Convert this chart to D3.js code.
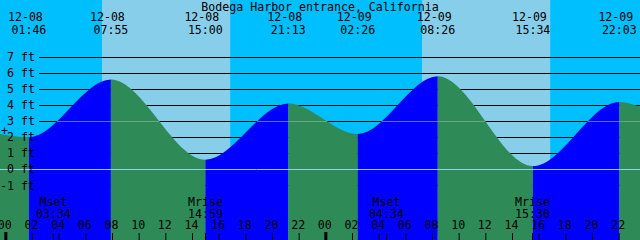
<!DOCTYPE html>
<html>
<head>
<meta charset="utf-8">
<script src="https://cdn.jsdelivr.net/npm/d3@7"></script>
<style>
  body { margin: 0; background: #fff; }
  text { font-family: "DejaVu Sans Mono", monospace; font-size: 11.6px; fill: #000; }
</style>
</head>
<body>
<script>
const width = 640;
const height = 240;

// tide extremes (time, height in ft), first low then alternating
const tideTimes = ["12-08 01:46", "12-08 07:55", "12-08 15:00", "12-08 21:13",
                   "12-09 02:26", "12-09 08:26", "12-09 15:34", "12-09 22:03"];
const tideHeights = [2.0, 5.6, 0.6, 4.1, 2.2, 5.8, 0.2, 4.2];
// curve values at the left and right edges of the chart
const edgeTimes = ["12-07 23:36", "12-09 23:36"];
const edgeHeights = [2.2, 3.9];

const sunriseTimes = ["12-08 07:15", "12-09 07:15"];
const sunsetTimes = ["12-08 16:52", "12-09 16:52"];

const moonLabels = ["Mset", "Mrise", "Mset", "Mrise"];
const moonTimes = ["12-08 03:34", "12-08 14:59", "12-09 04:34", "12-09 15:30"];

const depthTicks = [-1, 0, 1, 2, 3, 4, 5, 6, 7];
const meanLevel = 3;
const markLevel = 2.4;

const parse = d3.timeParse("%m-%d %H:%M");

const x = d3.scaleTime()
  .domain([parse(edgeTimes[0]), parse(edgeTimes[1])])
  .range([0, width]);

const y = d3.scaleLinear()
  .domain([-1, 7])
  .range([185.3, 57]);

const tide = [{ t: parse(edgeTimes[0]), v: edgeHeights[0] }]
  .concat(tideTimes.map((d, i) => ({ t: parse(d), v: tideHeights[i] })))
  .concat([{ t: parse(edgeTimes[1]), v: edgeHeights[1] }]);

const svg = d3.select("body")
  .append("svg")
    .attr("width", width)
    .attr("height", height);

// night / day background
svg.append("rect")
  .attr("width", width)
  .attr("height", height)
  .style("fill", "#00bfff");

svg.selectAll(".day")
  .data(sunriseTimes)
  .join("rect")
    .attr("class", "day")
    .attr("x", d => x(parse(d)))
    .attr("width", (d, i) => x(parse(sunsetTimes[i])) - x(parse(d)))
    .attr("y", 0)
    .attr("height", height)
    .style("fill", "#87ceeb");

// depth lines (only show above the water)
svg.append("g")
  .attr("transform", "translate(39,0)")
  .call(d3.axisRight(y).tickValues(depthTicks).tickSize(width - 39).tickFormat(""))
  .call(g => g.select(".domain").remove())
  .call(g => g.selectAll("line").attr("stroke", "#000").attr("shape-rendering", "crispEdges"));

// water
const area = d3.area()
  .x(d => x(d.t))
  .y0(height)
  .y1(d => y(d.v))
  .curve(d3.curveMonotoneX);

svg.append("clipPath")
  .attr("id", "water")
  .append("path")
    .attr("d", area(tide));

const bounds = tide.map(d => d.t);
const water = svg.append("g").attr("clip-path", "url(#water)");

water.selectAll(".seg")
  .data(d3.pairs(bounds))
  .join("rect")
    .attr("class", "seg")
    .attr("x", d => x(d[0]))
    .attr("width", d => x(d[1]) - x(d[0]))
    .attr("y", 0)
    .attr("height", height)
    .style("fill", (d, i) => i % 2 === 0 ? "#2e8b57" : "#0000ff");

water.append("line")
  .attr("x1", 0).attr("x2", width)
  .attr("y1", Math.round(y(meanLevel)) + 0.5).attr("y2", Math.round(y(meanLevel)) + 0.5)
  .attr("stroke", "#96b4aa")
  .attr("stroke-opacity", 0.6);

water.append("line")
  .attr("x1", 0).attr("x2", width)
  .attr("y1", Math.round(y(0)) + 0.5).attr("y2", Math.round(y(0)) + 0.5)
  .attr("stroke", "#8fd0ef");

// depth labels
svg.append("g")
  .attr("transform", "translate(39,0)")
  .call(d3.axisLeft(y).tickValues(depthTicks).tickSize(0).tickPadding(4).tickFormat(d => d + " ft"))
  .call(g => g.select(".domain").remove())
  .call(g => g.selectAll("text").style("font-family", null).style("font-size", null).attr("font-family", null).attr("font-size", null));

svg.append("text")
  .attr("x", 4.5)
  .attr("y", y(markLevel) + 4)
  .attr("text-anchor", "middle")
  .text("+");

// title
svg.append("text")
  .attr("x", width / 2)
  .attr("y", 10.5)
  .attr("text-anchor", "middle")
  .text("Bodega Harbor entrance, California");

// high / low labels
const extremeLabels = svg.selectAll(".extreme")
  .data(tideTimes)
  .join("g")
    .attr("class", "extreme")
    .attr("transform", d => `translate(${x(parse(d))},0)`);

extremeLabels.append("text")
  .attr("x", -3.5)
  .attr("y", 21)
  .attr("text-anchor", "middle")
  .text(d => d.split(" ")[0]);

extremeLabels.append("text")
  .attr("x", 0)
  .attr("y", 34)
  .attr("text-anchor", "middle")
  .text(d => d.split(" ")[1]);

// moon events
const moon = svg.selectAll(".moon")
  .data(moonTimes)
  .join("g")
    .attr("class", "moon")
    .attr("transform", d => `translate(${Math.round(x(parse(d))) + 0.5},0)`);

moon.append("text")
  .attr("y", 206)
  .attr("text-anchor", "middle")
  .text((d, i) => moonLabels[i]);

moon.append("text")
  .attr("y", 218)
  .attr("text-anchor", "middle")
  .text(d => d.split(" ")[1]);

moon.append("line")
  .attr("y1", 233)
  .attr("y2", height)
  .attr("stroke", "#000");

// hour axis
svg.append("g")
  .attr("transform", `translate(0,${height})`)
  .call(d3.axisTop(x).ticks(d3.timeHour.every(2)).tickSize(7).tickPadding(4).tickFormat(d3.timeFormat("%H")))
  .call(g => g.select(".domain").remove())
  .call(g => g.selectAll("text").attr("font-family", null).attr("font-size", null).attr("dx", -1))
  .call(g => g.selectAll(".tick").filter(d => d.getHours() === 0).select("line")
    .attr("stroke-width", 3)
    .attr("y2", -8));
</script>
</body>
</html>
